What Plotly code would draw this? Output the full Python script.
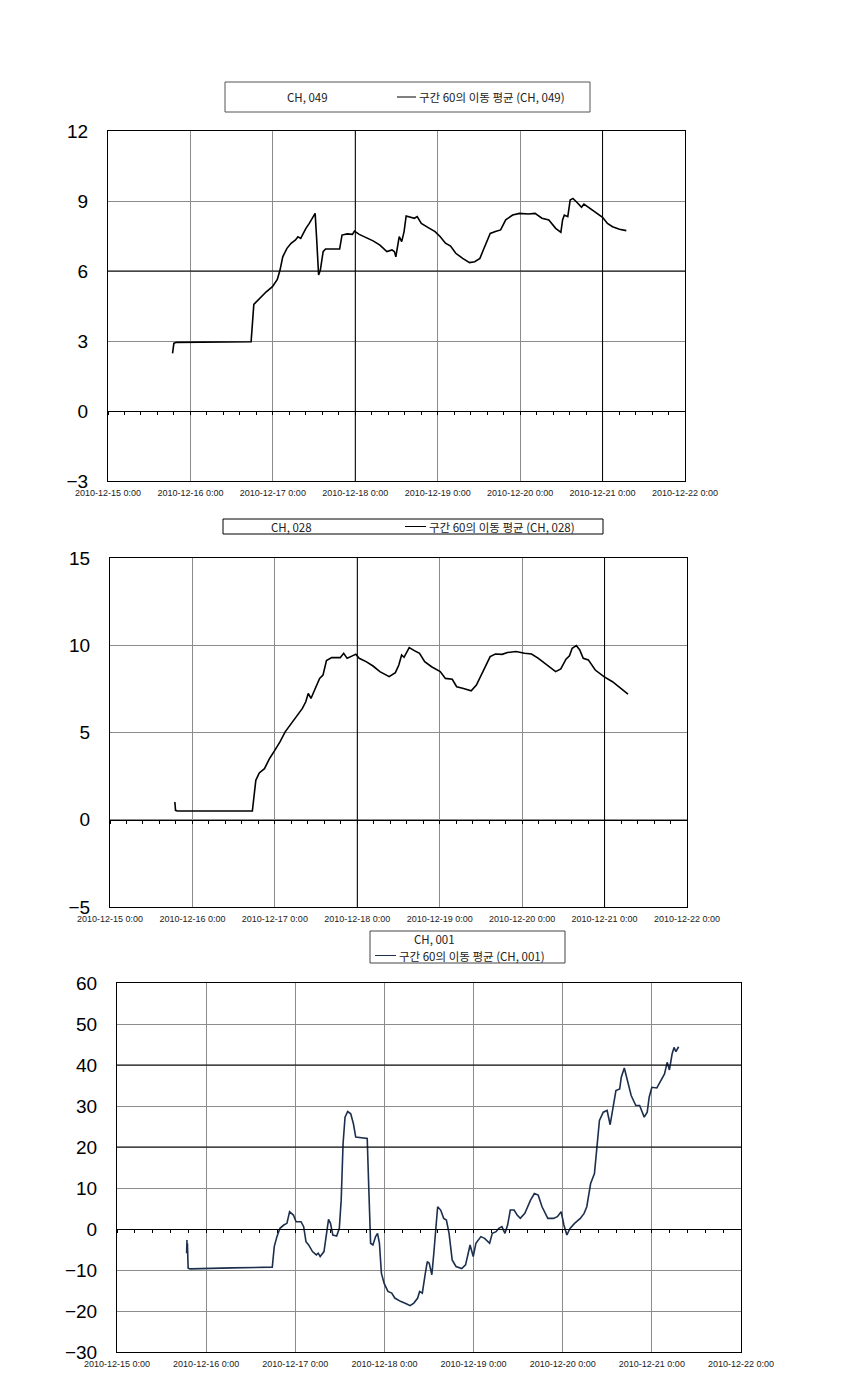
import pandas as pd
import plotly.graph_objects as go

BASE = pd.Timestamp("2010-12-15 00:00")

# ---- Panel 1 : CH, 049 (days since 2010-12-15 0:00, value)
T1 = [0.783, 0.799, 0.824, 1.125, 1.418, 1.736, 1.769, 1.836, 1.920, 1.995, 2.054, 2.087, 2.120, 2.171,
      2.221, 2.275, 2.304, 2.338, 2.401, 2.442, 2.513, 2.530, 2.555, 2.576, 2.610, 2.639, 2.810, 2.839,
      2.902, 2.965, 2.990, 3.048, 3.132, 3.216, 3.299, 3.383, 3.446, 3.475, 3.492, 3.508, 3.533, 3.563,
      3.592, 3.617, 3.676, 3.717, 3.751, 3.801, 3.885, 3.968, 4.031, 4.094, 4.156, 4.219, 4.303, 4.386,
      4.449, 4.512, 4.553, 4.637, 4.700, 4.763, 4.825, 4.909, 4.992, 5.097, 5.181, 5.264, 5.348, 5.431,
      5.494, 5.515, 5.536, 5.578, 5.607, 5.640, 5.682, 5.745, 5.774, 5.849, 5.933, 6.000, 6.059, 6.121,
      6.205, 6.288]
V1 = [2.47, 2.90, 2.94, 2.94, 2.96, 2.97, 4.57, 4.83, 5.11, 5.33, 5.64, 6.04, 6.61, 6.97,
      7.19, 7.33, 7.47, 7.40, 7.83, 8.04, 8.47, 7.47, 5.83, 6.04, 6.83, 6.94, 6.94, 7.54,
      7.59, 7.57, 7.71, 7.57, 7.43, 7.29, 7.11, 6.83, 6.90, 6.83, 6.61, 6.90, 7.47, 7.26,
      7.69, 8.36, 8.30, 8.26, 8.33, 8.04, 7.86, 7.69, 7.47, 7.19, 7.07, 6.76, 6.54, 6.36,
      6.40, 6.54, 6.90, 7.61, 7.69, 7.76, 8.19, 8.40, 8.47, 8.44, 8.47, 8.26, 8.19, 7.83,
      7.66, 8.19, 8.40, 8.33, 9.04, 9.11, 8.97, 8.73, 8.87, 8.69, 8.47, 8.30, 8.04, 7.90,
      7.79, 7.73]

# ---- Panel 2 : CH, 028
T2 = [0.787, 0.795, 0.816, 1.309, 1.727, 1.769, 1.811, 1.874, 1.936, 1.995, 2.062, 2.125, 2.187, 2.271,
      2.334, 2.375, 2.405, 2.438, 2.501, 2.543, 2.584, 2.626, 2.689, 2.793, 2.835, 2.877, 2.940, 2.982,
      3.023, 3.107, 3.191, 3.274, 3.387, 3.462, 3.504, 3.538, 3.567, 3.630, 3.692, 3.755, 3.818, 3.901,
      4.006, 4.069, 4.152, 4.206, 4.278, 4.382, 4.445, 4.528, 4.612, 4.675, 4.758, 4.821, 4.925, 5.030,
      5.114, 5.197, 5.301, 5.406, 5.469, 5.532, 5.574, 5.607, 5.657, 5.699, 5.741, 5.803, 5.887, 5.992,
      6.096, 6.201, 6.284]
V2 = [1.02, 0.54, 0.50, 0.50, 0.50, 2.26, 2.68, 2.93, 3.51, 3.95, 4.46, 5.04, 5.42, 6.00,
      6.38, 6.76, 7.24, 6.95, 7.62, 8.10, 8.29, 9.12, 9.29, 9.29, 9.54, 9.25, 9.39, 9.48,
      9.25, 9.06, 8.81, 8.49, 8.20, 8.43, 8.87, 9.44, 9.31, 9.87, 9.69, 9.54, 9.06, 8.77,
      8.49, 8.10, 8.05, 7.62, 7.53, 7.39, 7.72, 8.58, 9.35, 9.50, 9.48, 9.58, 9.64, 9.54,
      9.50, 9.25, 8.87, 8.49, 8.64, 9.20, 9.39, 9.83, 9.98, 9.73, 9.25, 9.16, 8.58, 8.20,
      7.91, 7.53, 7.20]

# ---- Panel 3 : CH, 001
T3 = [0.785, 0.781, 0.790, 0.798, 0.820, 1.292, 1.742, 1.764, 1.794, 1.828, 1.871, 1.906, 1.936, 1.979,
      2.009, 2.064, 2.094, 2.120, 2.150, 2.193, 2.236, 2.258, 2.279, 2.322, 2.352, 2.373, 2.395, 2.421,
      2.464, 2.494, 2.515, 2.536, 2.558, 2.588, 2.622, 2.652, 2.678, 2.730, 2.807, 2.824, 2.845, 2.871,
      2.901, 2.923, 2.944, 2.966, 2.996, 3.039, 3.082, 3.116, 3.180, 3.245, 3.288, 3.330, 3.373, 3.395,
      3.425, 3.459, 3.481, 3.502, 3.532, 3.554, 3.579, 3.597, 3.631, 3.665, 3.695, 3.725, 3.760, 3.803,
      3.867, 3.910, 3.940, 3.961, 3.996, 4.026, 4.082, 4.124, 4.180, 4.210, 4.253, 4.283, 4.318, 4.352,
      4.382, 4.412, 4.455, 4.489, 4.524, 4.575, 4.639, 4.682, 4.725, 4.768, 4.833, 4.897, 4.940, 4.983,
      5.013, 5.047, 5.082, 5.133, 5.197, 5.240, 5.270, 5.313, 5.356, 5.382, 5.412, 5.455, 5.498, 5.532,
      5.562, 5.597, 5.639, 5.657, 5.691, 5.725, 5.768, 5.820, 5.863, 5.914, 5.948, 5.970, 6.000, 6.056,
      6.099, 6.142, 6.172, 6.197, 6.227, 6.249, 6.270, 6.300]
V3 = [-2.67, -5.91, -3.48, -9.55, -9.72, -9.47, -9.31, -4.29, -1.86, 0.16, 0.97, 1.38, 4.21, 3.40,
      1.78, 1.78, 0.57, -3.08, -3.89, -5.51, -6.32, -5.91, -6.72, -5.51, -1.05, 2.35, 1.38, -1.46,
      -1.70, 0.16, 7.04, 20.81, 27.29, 28.66, 28.10, 25.67, 22.43, 22.27, 22.11, 10.28, -3.48, -3.89,
      -1.86, -1.05, -3.48, -10.77, -13.20, -15.22, -15.63, -16.84, -17.65, -18.22, -18.70, -18.06, -16.84, -15.22,
      -15.63, -10.77, -7.94, -8.34, -11.17, -5.91, 2.19, 5.43, 4.62, 2.59, 2.19, -1.05, -7.53, -9.15,
      -9.64, -8.74, -5.91, -3.89, -6.72, -3.48, -1.86, -2.27, -3.48, -1.05, -0.65, 0.16, 0.57, -1.05,
      0.97, 4.62, 4.62, 3.40, 2.59, 3.81, 7.04, 8.66, 8.26, 5.43, 2.59, 2.59, 3.00, 4.21,
      0.97, -1.46, 0.16, 1.38, 2.59, 3.81, 5.43, 11.09, 13.52, 20.00, 26.48, 28.50, 28.91, 25.43,
      29.72, 33.77, 34.17, 37.00, 39.27, 36.60, 32.55, 30.12, 30.12, 27.29, 28.50, 32.15, 34.57, 34.41,
      36.19, 37.81, 40.65, 38.79, 42.67, 44.29, 43.24, 44.45]

CHANNELS = ["CH, 049", "CH, 028", "CH, 001"]
MA_NAMES = ["구간 60의 이동 평균 (CH, 049)", "구간 60의 이동 평균 (CH, 028)", "구간 60의 이동 평균 (CH, 001)"]
Y_RANGES = [(-3, 12), (-5, 15), (-30, 60)]
Y_DTICKS = [3, 5, 10]
LINE_COLORS = ["#000000", "#000000", "#1c2f4d"]
BLACK_GRID_X = [["2010-12-18", "2010-12-21"], ["2010-12-18", "2010-12-21"], []]
BLACK_GRID_Y = [[6], [], [40, 20]]
X_RANGE = ["2010-12-15", "2010-12-22"]

W, H = 866, 1392
def px(x): return x / W
def py(y): return 1 - y / H

# plot areas in pixels (left, right, top, bottom)
AREAS = [(108, 685, 131, 481), (110, 687, 558, 907), (117, 741, 983, 1352)]

fig = go.Figure()
layout = dict(width=W, height=H, margin=dict(l=0, r=0, t=0, b=0, autoexpand=False),
              paper_bgcolor="white", plot_bgcolor="white", showlegend=False)
shapes, annotations = [], []

series = [(T1, V1), (T2, V2), (T3, V3)]
for i, (T, V) in enumerate(series):
    n = i + 1
    xs = [(BASE + pd.Timedelta(days=t)).round("s").strftime("%Y-%m-%d %H:%M:%S") for t in T]
    xa, ya = f"x{'' if n == 1 else n}", f"y{'' if n == 1 else n}"
    xo = f"x{n + 3}"
    fig.add_trace(go.Scatter(x=xs, y=V, mode="lines", xaxis=xa, yaxis=ya,
                             line=dict(color=LINE_COLORS[i], width=1.6), name=MA_NAMES[i],
                             hoverinfo="skip"))
    # invisible trace to attach the zero-line tick axis
    fig.add_trace(go.Scatter(x=xs, y=V, mode="lines", xaxis=xo, yaxis=ya,
                             line=dict(color="rgba(0,0,0,0)", width=0), hoverinfo="skip"))
    l, r, t, b = AREAS[i]
    d0, d1 = py(b), py(t)
    lo, hi = Y_RANGES[i]
    zero_pos = d0 + (0 - lo) / (hi - lo) * (d1 - d0)
    layout[f"xaxis{'' if n == 1 else n}"] = dict(
        domain=[px(l), px(r)], anchor=ya, type="date", range=X_RANGE, automargin=False,
        dtick=86400000, tick0="2010-12-15", tickformat="%Y-%m-%d %-H:%M",
        showgrid=True, gridcolor="#8c8c8c", gridwidth=1,
        showline=True, linecolor="black", linewidth=1, mirror=True,
        ticks="", ticklabelstandoff=3,
        tickfont=dict(family="Liberation Sans Narrow, Liberation Sans", size=9, color="#222"),
        zeroline=False)
    layout[f"yaxis{'' if n == 1 else n}"] = dict(
        domain=[d0, d1], anchor=xa, range=[lo, hi], dtick=Y_DTICKS[i], tick0=0, automargin=False,
        showgrid=True, gridcolor="#8c8c8c", gridwidth=1,
        showline=True, linecolor="black", linewidth=1, mirror=True,
        ticks="", ticklabelstandoff=15,
        tickfont=dict(family="Liberation Sans, Arial", size=19, color="black"),
        zeroline=False)
    layout[f"xaxis{n + 3}"] = dict(
        overlaying=xa, anchor="free", position=zero_pos, type="date", range=X_RANGE, automargin=False,
        dtick=17280000, tick0="2010-12-15", showticklabels=False,
        showline=True, linecolor="black", linewidth=1,
        ticks="outside", ticklen=3, tickcolor="black", tickwidth=1,
        showgrid=False, zeroline=False)
    for gx in BLACK_GRID_X[i]:
        shapes.append(dict(type="line", xref=xa, yref="paper", x0=gx, x1=gx, y0=d0, y1=d1,
                           line=dict(color="black", width=1), layer="above"))
    for gy in BLACK_GRID_Y[i]:
        shapes.append(dict(type="line", xref="paper", yref=ya, x0=px(l), x1=px(r), y0=gy, y1=gy,
                           line=dict(color="black", width=1), layer="above"))

LEG_FONT = dict(family="Noto Sans CJK KR", size=11.5, color="#222")
LEG_FONT3 = dict(family="Noto Sans CJK KR", size=11.5, color="#222")

# legend 1
shapes.append(dict(type="rect", xref="paper", yref="paper", x0=px(225), x1=px(590), y0=py(112), y1=py(82),
                   line=dict(color="#555", width=1)))
annotations.append(dict(xref="paper", yref="paper", x=px(307), y=py(97), text=CHANNELS[0],
                        showarrow=False, font=LEG_FONT, xanchor="center", yanchor="middle"))
shapes.append(dict(type="line", xref="paper", yref="paper", x0=px(397), x1=px(416), y0=py(97), y1=py(97),
                   line=dict(color=LINE_COLORS[0], width=1)))
annotations.append(dict(xref="paper", yref="paper", x=px(417), y=py(97), text=MA_NAMES[0],
                        showarrow=False, font=LEG_FONT, xanchor="left", yanchor="middle"))

# legend 2
shapes.append(dict(type="rect", xref="paper", yref="paper", x0=px(223), x1=px(603), y0=py(534), y1=py(519),
                   line=dict(color="black", width=1)))
annotations.append(dict(xref="paper", yref="paper", x=px(291), y=py(526.5), text=CHANNELS[1],
                        showarrow=False, font=LEG_FONT, xanchor="center", yanchor="middle"))
shapes.append(dict(type="line", xref="paper", yref="paper", x0=px(405), x1=px(426), y0=py(526.5), y1=py(526.5),
                   line=dict(color=LINE_COLORS[1], width=1)))
annotations.append(dict(xref="paper", yref="paper", x=px(427), y=py(526.5), text=MA_NAMES[1],
                        showarrow=False, font=LEG_FONT, xanchor="left", yanchor="middle"))

# legend 3
shapes.append(dict(type="rect", xref="paper", yref="paper", x0=px(370), x1=px(565), y0=py(963), y1=py(931),
                   line=dict(color="#444", width=1)))
annotations.append(dict(xref="paper", yref="paper", x=px(412), y=py(939), text=CHANNELS[2],
                        showarrow=False, font=LEG_FONT3, xanchor="left", yanchor="middle"))
shapes.append(dict(type="line", xref="paper", yref="paper", x0=px(375), x1=px(396), y0=py(955.5), y1=py(955.5),
                   line=dict(color=LINE_COLORS[2], width=1)))
annotations.append(dict(xref="paper", yref="paper", x=px(397), y=py(955.5), text=MA_NAMES[2],
                        showarrow=False, font=LEG_FONT3, xanchor="left", yanchor="middle"))

layout["shapes"] = shapes
layout["annotations"] = annotations
fig.update_layout(**layout)
fig.write_html("out.html")
